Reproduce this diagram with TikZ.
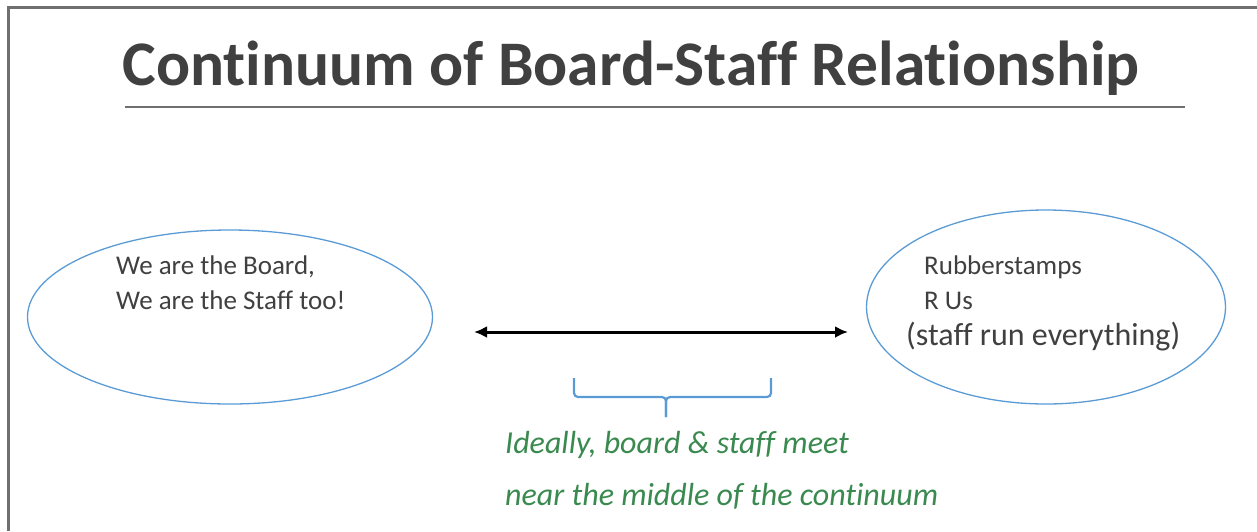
\documentclass[tikz,border=0pt]{standalone}
\usepackage{fontspec}
\setmainfont{Carlito}[Ligatures=NoCommon]
\usepackage{xcolor}
\usetikzlibrary{arrows.meta,positioning,shapes.geometric}
\definecolor{framegray}{RGB}{112,112,112}
\definecolor{titlegray}{RGB}{64,64,64}
\definecolor{ovalblue}{RGB}{91,155,213}
\definecolor{notegreen}{RGB}{58,138,80}
\tikzset{
	oval/.style={draw=ovalblue,line width=1.3pt,ellipse,inner sep=0pt},
	txt/.style={anchor=base west,inner sep=0pt,text=titlegray,font=\fontsize{27}{32}\selectfont},
	note/.style={anchor=base west,inner sep=0pt,text=notegreen,font=\fontsize{32}{38}\selectfont\itshape}
}
\begin{document}
\begin{tikzpicture}[x=1pt,y=-1pt]
		\useasboundingbox (0,0) rectangle (1257,531);
		\draw[framegray,line width=3pt] (8,531) -- (8,7) -- (1257,7);
		\node[anchor=base,inner sep=0pt,text=titlegray,font=\fontsize{63.5}{76}\selectfont\bfseries] (title) at (631,85) {Continuum of Board-Staff Relationship};
		\draw[framegray,line width=1.3pt] (125,107) coordinate (ruleL) -- (1185,107) coordinate (ruleR);
		\node[oval,minimum width=405pt,minimum height=174pt] (board) at (230,317) {};
		\node[oval,minimum width=359pt,minimum height=194pt] (staff) at (1046,307) {};
		\node[txt] (board1) at (116,274) {We are the Board,};
		\node[txt] (board2) at (116,309) {We are the Staff too!};
		\node[txt] (staff1) at (924,274) {Rubberstamps};
		\node[txt] (staff2) at (924,309) {R Us};
		\node[txt,font=\fontsize{32}{38}\selectfont] (staff3) at (906,345) {(staff run everything)};
		\coordinate (arrL) at (474,332);
		\coordinate (arrR) at (848,332);
		\draw[{Latex[length=13pt,width=12pt]}-{Latex[length=13pt,width=12pt]},line width=3pt] (arrL) -- (arrR);
		\coordinate (braceL) at (574,378);
		\coordinate (braceR) at (771,378);
		\coordinate (braceM) at (666,417);
		\draw[ovalblue,line width=2.2pt,rounded corners=4pt] (braceL) -- (574,397) -- (666,397) -- (braceM);
		\draw[ovalblue,line width=2.2pt,rounded corners=4pt] (braceR) -- (771,397) -- (666,397) -- (braceM);
		\node[note] (ideal1) at (505,453) {Ideally, board \& staff meet};
		\node[note] (ideal2) at (505,505) {near the middle of the continuum};
	\end{tikzpicture}
\end{document}
